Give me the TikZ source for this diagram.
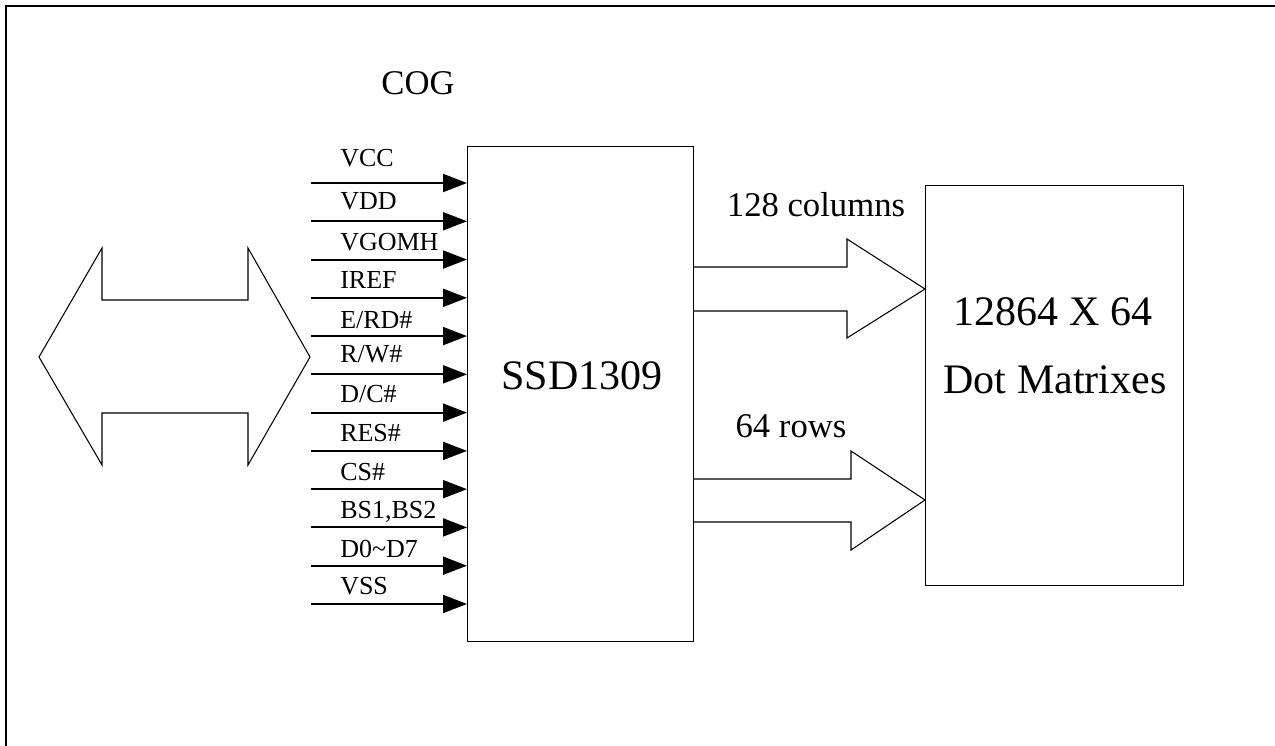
\documentclass[tikz,border=0pt]{standalone}
\usepackage{fontspec}
\setmainfont{Liberation Serif}
\usetikzlibrary{arrows.meta,positioning,calc}

\tikzset{
  blk/.style={draw, line width=0.9pt, inner sep=0pt, anchor=north west},
  sig/.style={line width=1.5pt, -{Triangle[length=18pt, width=13.5pt]}},
  pinlbl/.style={font=\fontsize{19.5}{22}\selectfont, anchor=base west, inner sep=0pt},
  biglbl/.style={font=\fontsize{26}{30}\selectfont, anchor=base, inner sep=0pt},
  hugelbl/.style={font=\fontsize{31.5}{36}\selectfont, anchor=base, inner sep=0pt},
  fatarrow/.style={draw, line width=0.8pt, line join=miter},
}

\begin{document}
\begin{tikzpicture}[x=0.75pt, y=-0.75pt]
  \useasboundingbox (0,0) rectangle (1275,746);
  % frame
  \draw[line width=1pt] (6,746) -- (6,6) -- (1275,6);
  \node[biglbl] (cog) at (418,94) {COG};

  % controller and panel
  \node[blk, minimum width=169.5pt, minimum height=371.25pt] (chip) at (467,146) {};
  \node[hugelbl] (chipname) at (582,389) {SSD1309};
  \node[blk, minimum width=193.5pt, minimum height=300pt] (dots) at (925,185) {};
  \node[hugelbl] (dotsA) at (1053,325) {12864 X 64};
  \node[hugelbl] (dotsB) at (1055,393) {Dot Matrixes};

  % interface pins
  \foreach \lbl/\up [count=\i from 0] in {VCC/17, VDD/12, VGOMH/9, IREF/9, {E/RD\#}/8, {R/W\#}/12,
      {D/C\#}/10, RES\#/9, CS\#/9, {BS1,BS2}/9, {D0\textasciitilde D7}/8, VSS/9}{
    \pgfmathsetmacro{\yy}{183+\i*38.27}
    \coordinate (in\i) at (311,\yy);
    \draw[sig] (in\i) -- (in\i -| chip.west);
    \node[pinlbl] (lbl\i) at (340,\yy-\up) {\lbl};}

  % host bus
  \draw[fatarrow] (39,357) -- (102,248) -- (102,300) -- (248,300) -- (248,248) -- (310,357)
        -- (248,465) -- (248,413) -- (102,413) -- (102,465) -- cycle;

  % columns and rows
  \draw[fatarrow] (chip.east |- 0,267) -- (847,267) -- (847,239) -- (dots.west |- 0,289)
        -- (847,338) -- (847,311) -- (chip.east |- 0,311);
  \node[biglbl] (cols) at (816,216) {128 columns};
  \draw[fatarrow] (chip.east |- 0,479) -- (851,479) -- (851,451) -- (dots.west |- 0,500)
        -- (851,550) -- (851,522) -- (chip.east |- 0,522);
  \node[biglbl] (rows) at (791,437) {64 rows};
\end{tikzpicture}
\end{document}
